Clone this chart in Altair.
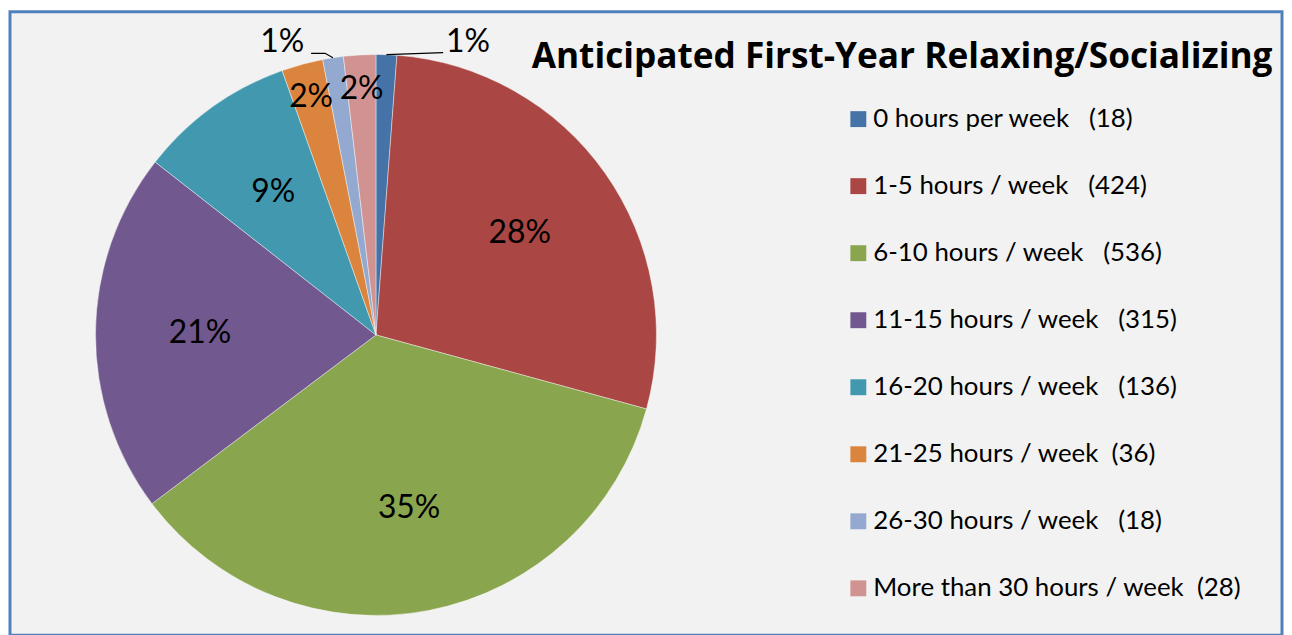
import math
import altair as alt
import pandas as pd

TITLE = "Anticipated First-Year Relaxing/Socializing"
categories = [
    "0 hours per week",
    "1-5 hours / week",
    "6-10 hours / week",
    "11-15 hours / week",
    "16-20 hours / week",
    "21-25 hours / week",
    "26-30 hours / week",
    "More than 30 hours / week",
]
counts = [18, 424, 536, 315, 136, 36, 18, 28]
gap_spaces = [3, 3, 3, 3, 3, 2, 3, 2]
colors = ["#4572A7", "#AA4643", "#89A54E", "#71588F", "#4198AF", "#DB843D", "#93A9CF", "#D19392"]

NB = "\u00a0"
labels = [f"{c}{NB * g}({n})" for c, g, n in zip(categories, gap_spaces, counts)]

# layout (view coordinates; view starts at page 10,10)
OX, OY = 10, 10
CX, CY, R = 378 - OX, 335 - OY, 282
FONT = "Lato"

total = sum(counts)
df = pd.DataFrame({"label": labels, "count": counts, "idx": list(range(len(counts)))})
df["share"] = df["count"] / total
df["pct"] = [f"{round(s * 100)}%" for s in df["share"]]
df["inner"] = [p if s >= 0.015 else "" for p, s in zip(df["pct"], df["share"])]
df["lr"] = [177 if s > 0.05 else 248 for s in df["share"]]

# outer labels with leader lines for tiny slices
line_rows, text_rows = [], []
cum = 0
for i, n in enumerate(counts):
    mid = (cum + n / 2) / total * 2 * math.pi
    cum += n
    if n / total >= 0.015:
        continue
    ex = CX + R * math.sin(mid)
    ey = CY - R * math.cos(mid)
    if math.sin(mid) >= 0:
        pts = [(ex, ey), (ex + 57, ey - 2)]
        lab = (ex + 82, ey - 13)
    else:
        pts = [(ex, ey), (ex - 8, ey - 4.5), (ex - 22, ey - 4.5)]
        lab = (ex - 51, ey - 16)
    for k, (px, py) in enumerate(pts):
        line_rows.append({"lid": i, "ord": k, "x": px, "y": py})
    text_rows.append({"x": lab[0], "y": lab[1], "t": df["pct"][i]})
lines_df = pd.DataFrame(line_rows)
outer_df = pd.DataFrame(text_rows)

pie = alt.Chart(df).mark_arc(radius=R, stroke="#FFFFFF", strokeWidth=0.7, strokeOpacity=0.6).encode(
    theta=alt.Theta("count:Q", stack=True),
    order=alt.Order("idx:Q"),
    x=alt.value(CX),
    y=alt.value(CY),
    color=alt.Color(
        "label:N",
        scale=alt.Scale(domain=labels, range=colors),
        legend=alt.Legend(
            title=None,
            orient="none",
            legendX=850 - OX,
            legendY=118 - 13 - OY,
            symbolType="square",
            symbolSize=256,
            symbolStrokeWidth=0,
            symbolOpacity=1,
            labelFont=FONT,
            labelFontSize=26,
            labelColor="#000000",
            labelOffset=2,
            labelLimit=600,
            rowPadding=41.4,
            padding=0,
        ),
    ),
)

inner_text = (
    alt.Chart(df)
    .transform_joinaggregate(tot="sum(count)")
    .transform_window(cum="sum(count)", sort=[alt.SortField("idx")], frame=[None, 0])
    .transform_calculate(mid="(datum.cum - datum.count / 2) / datum.tot * 2 * PI")
    .mark_text(font=FONT, fontSize=32, color="#000000", baseline="middle")
    .encode(
        x=alt.value(CX),
        y=alt.value(CY),
        theta=alt.Theta("mid:Q", scale=None),
        radius=alt.Radius("lr:Q", scale=None),
        text="inner:N",
    )
)

leaders = alt.Chart(lines_df).mark_line(color="#000000", strokeWidth=1.2).encode(
    x=alt.X("x:Q", scale=None),
    y=alt.Y("y:Q", scale=None),
    detail="lid:N",
    order="ord:Q",
)

outer_text = alt.Chart(outer_df).mark_text(font=FONT, fontSize=32, color="#000000", baseline="middle").encode(
    x=alt.X("x:Q", scale=None),
    y=alt.Y("y:Q", scale=None),
    text="t:N",
)

title = alt.Chart(pd.DataFrame({"t": [TITLE]})).mark_text(
    font="Open Sans", fontSize=35.4, fontWeight="bold", color="#000000", align="center", baseline="alphabetic"
).encode(
    x=alt.value(907 - OX),
    y=alt.value(67 - OY),
    text="t:N",
)

chart = (
    alt.layer(pie, inner_text, leaders, outer_text, title)
    .properties(
        width=1279,
        height=627,
        padding={"left": 2, "top": 2, "right": 2, "bottom": 0},
        autosize=alt.AutoSizeParams(type="none"),
        background="#FFFFFF",
    )
    .configure_view(fill="#F2F2F2", stroke="#4F81BD", strokeWidth=3)
)

chart.save("out.html", embed_options={"renderer": "svg", "actions": False})
